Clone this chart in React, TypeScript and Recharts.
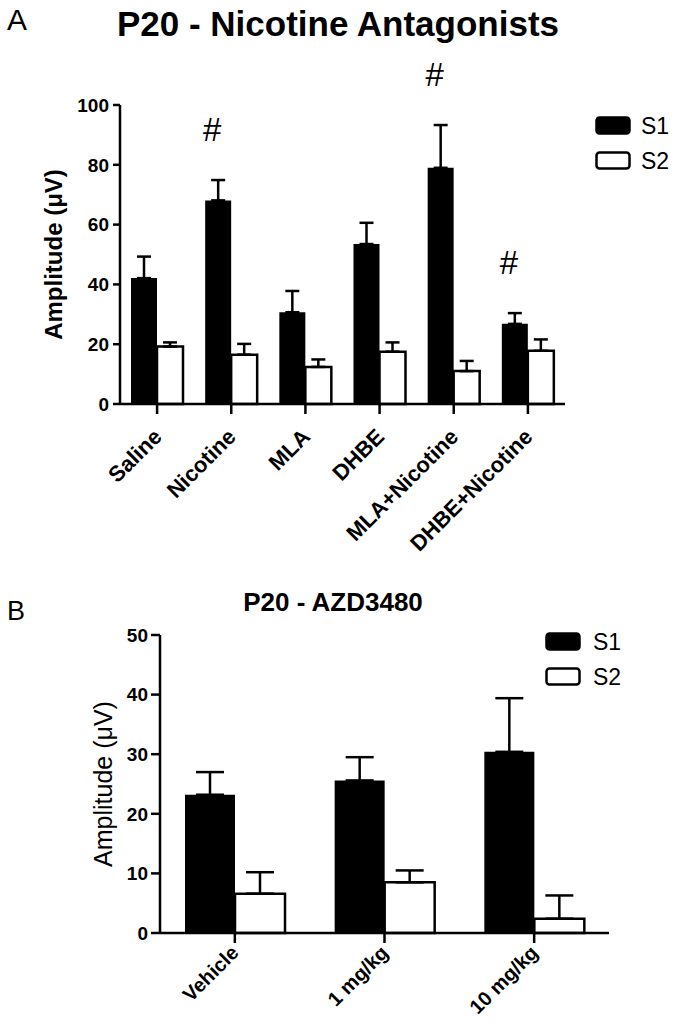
import React from 'react';
import { BarChart, Bar, XAxis, YAxis, ErrorBar, LabelList, Legend } from 'recharts';

const FONT = '"Liberation Sans", Arial, sans-serif';

// Panel A
const categoriesA = ['Saline', 'Nicotine', 'MLA', 'DHBE', 'MLA+Nicotine', 'DHBE+Nicotine'];
const s1MeansA = [42.1, 68.1, 30.7, 53.5, 79.0, 26.8];
const s1SemA = [7.2, 6.8, 7.1, 7.1, 14.3, 3.6];
const s2MeansA = [19.2, 16.5, 12.4, 17.5, 11.0, 17.8];
const s2SemA = [1.4, 3.6, 2.5, 3.1, 3.4, 3.8];
const hashA = [false, true, false, false, true, true];
const ticksA = [0, 20, 40, 60, 80, 100];

// Panel B
const categoriesB = ['Vehicle', '1 mg/kg', '10 mg/kg'];
const s1MeansB = [23.2, 25.6, 30.4];
const s1SemB = [3.8, 3.9, 9.0];
const s2MeansB = [6.6, 8.5, 2.4];
const s2SemB = [3.6, 2.0, 3.9];
const ticksB = [0, 10, 20, 30, 40, 50];

const dataA = categoriesA.map((name, i) => ({
  name,
  s1: s1MeansA[i],
  s1Err: [0, s1SemA[i]],
  s2: s2MeansA[i],
  s2Err: [0, s2SemA[i]],
  hash: hashA[i] ? s1MeansA[i] + s1SemA[i] : null,
}));

const dataB = categoriesB.map((name, i) => ({
  name,
  s1: s1MeansB[i],
  s1Err: [0, s1SemB[i]],
  s2: s2MeansB[i],
  s2Err: [0, s2SemB[i]],
}));

const makeXTick = (dx: number, dy: number, fs: number) => (props: any) => {
  const { x, y, payload } = props;
  const px = x + dx;
  const py = y + dy;
  return (
    <text
      x={px}
      y={py}
      transform={`rotate(-45, ${px}, ${py})`}
      textAnchor="end"
      fontSize={fs}
      fontWeight="bold"
      fontFamily={FONT}
      fill="#000"
    >
      {payload.value}
    </text>
  );
};

const makeYLabel = (cx: number, fs: number, weight: string) => (props: any) => {
  const vb = props.viewBox || {};
  const x = (vb.x || 0) + cx;
  const y = (vb.y || 0) + (vb.height || 0) / 2;
  return (
    <text
      x={x}
      y={y}
      transform={`rotate(-90, ${x}, ${y})`}
      textAnchor="middle"
      dominantBaseline="central"
      fontSize={fs}
      fontWeight={weight}
      fontFamily={FONT}
      fill="#000"
    >
      Amplitude (μV)
    </text>
  );
};

const makeLegend = (rowGap: number, textX: number, fs: number, w: number) => (props: any) => {
  const payload = props.payload || [];
  return (
    <svg width={w} height={rowGap * 2 + 6} style={{ display: 'block', overflow: 'visible' }}>
      {payload.map((entry: any, i: number) => (
        <g key={i}>
          <rect
            x={1.5}
            y={1.5 + i * rowGap}
            width={33}
            height={16}
            rx={3}
            fill={i === 0 ? '#000' : '#fff'}
            stroke="#000"
            strokeWidth={2.5}
          />
          <text x={textX} y={18 + i * rowGap} fontSize={fs} fontFamily={FONT} fill="#000">
            {entry.value}
          </text>
        </g>
      ))}
    </svg>
  );
};

const renderHash = (props: any) => {
  const { x, y, width, height, value, index } = props;
  if (value === null || value === undefined || index === undefined) return null;
  const mean = s1MeansA[index];
  const base = y + height;
  const pxPerUnit = height / mean;
  const top = base - value * pxPerUnit;
  return (
    <text
      x={x + width / 2 - 6}
      y={top - 39}
      textAnchor="middle"
      fontSize={33}
      fontFamily={FONT}
      fill="#000"
    >
      #
    </text>
  );
};

const axisLine = { stroke: '#000', strokeWidth: 2.5 };
const tickLine = { stroke: '#000', strokeWidth: 2.5 };

export default function App() {
  return (
    <div style={{ position: 'absolute', left: 0, top: 0, width: 682, height: 1034, background: '#fff' }}>
      <div style={{ position: 'absolute', left: 0, top: 0 }}>
        <BarChart
          width={682}
          height={590}
          data={dataA}
          margin={{ top: 105, right: 117, bottom: 0, left: 0 }}
          barGap={0}
          barSize={26}
        >
          <XAxis
            dataKey="name"
            height={186}
            interval={0}
            axisLine={axisLine}
            tickLine={tickLine}
            tickSize={10}
            tickMargin={0}
            tick={makeXTick(6, 24, 22)}
          />
          <YAxis
            width={120}
            domain={[0, 100]}
            ticks={ticksA}
            interval={0}
            axisLine={axisLine}
            tickLine={tickLine}
            tickSize={7}
            tickMargin={4}
            tick={{ fill: '#000', fontSize: 19, fontWeight: 'bold', fontFamily: FONT }}
            label={makeYLabel(53, 24, 'bold')}
          />
          <Legend
            layout="vertical"
            align="center"
            verticalAlign="middle"
            wrapperStyle={{ left: 595, top: 116, width: 82 }}
            content={makeLegend(35, 46, 23, 82)}
          />
          <Bar dataKey="s1" name="S1" fill="#000" isAnimationActive={false}>
            <ErrorBar dataKey="s1Err" width={7} stroke="#000" strokeWidth={2.5} direction="y" isAnimationActive={false} />
            <LabelList dataKey="hash" content={renderHash} />
          </Bar>
          <Bar dataKey="s2" name="S2" fill="#fff" stroke="#000" strokeWidth={2.5} isAnimationActive={false}>
            <ErrorBar dataKey="s2Err" width={7} stroke="#000" strokeWidth={2.5} direction="y" isAnimationActive={false} />
          </Bar>
        </BarChart>
      </div>

      <div style={{ position: 'absolute', left: 0, top: 590 }}>
        <BarChart
          width={682}
          height={444}
          data={dataB}
          margin={{ top: 45, right: 73, bottom: 0, left: 0 }}
          barGap={0}
          barSize={50}
        >
          <XAxis
            dataKey="name"
            height={101}
            interval={0}
            axisLine={axisLine}
            tickLine={tickLine}
            tickSize={10}
            tickMargin={0}
            tick={makeXTick(5, 11, 20)}
          />
          <YAxis
            width={160}
            domain={[0, 50]}
            ticks={ticksB}
            interval={0}
            axisLine={axisLine}
            tickLine={tickLine}
            tickSize={9}
            tickMargin={3}
            tick={{ fill: '#000', fontSize: 19, fontWeight: 'bold', fontFamily: FONT }}
            label={makeYLabel(103, 25, 'normal')}
          />
          <Legend
            layout="vertical"
            align="center"
            verticalAlign="middle"
            wrapperStyle={{ left: 545, top: 42, width: 82 }}
            content={makeLegend(35, 48, 23, 82)}
          />
          <Bar dataKey="s1" name="S1" fill="#000" isAnimationActive={false}>
            <ErrorBar dataKey="s1Err" width={14} stroke="#000" strokeWidth={2.5} direction="y" isAnimationActive={false} />
          </Bar>
          <Bar dataKey="s2" name="S2" fill="#fff" stroke="#000" strokeWidth={2.5} isAnimationActive={false}>
            <ErrorBar dataKey="s2Err" width={14} stroke="#000" strokeWidth={2.5} direction="y" isAnimationActive={false} />
          </Bar>
        </BarChart>
      </div>

      <svg
        width={682}
        height={1034}
        style={{ position: 'absolute', left: 0, top: 0, pointerEvents: 'none' }}
      >
        <text x={7} y={30} fontSize={30} fontFamily={FONT} fill="#000">A</text>
        <text x={338} y={36} textAnchor="middle" fontSize={35} fontWeight="bold" fontFamily={FONT} fill="#000">
          P20 - Nicotine Antagonists
        </text>
        <text x={7} y={620} fontSize={27} fontFamily={FONT} fill="#000">B</text>
        <text x={333} y={611} textAnchor="middle" fontSize={26} fontWeight="bold" fontFamily={FONT} fill="#000">
          P20 - AZD3480
        </text>
      </svg>
    </div>
  );
}
